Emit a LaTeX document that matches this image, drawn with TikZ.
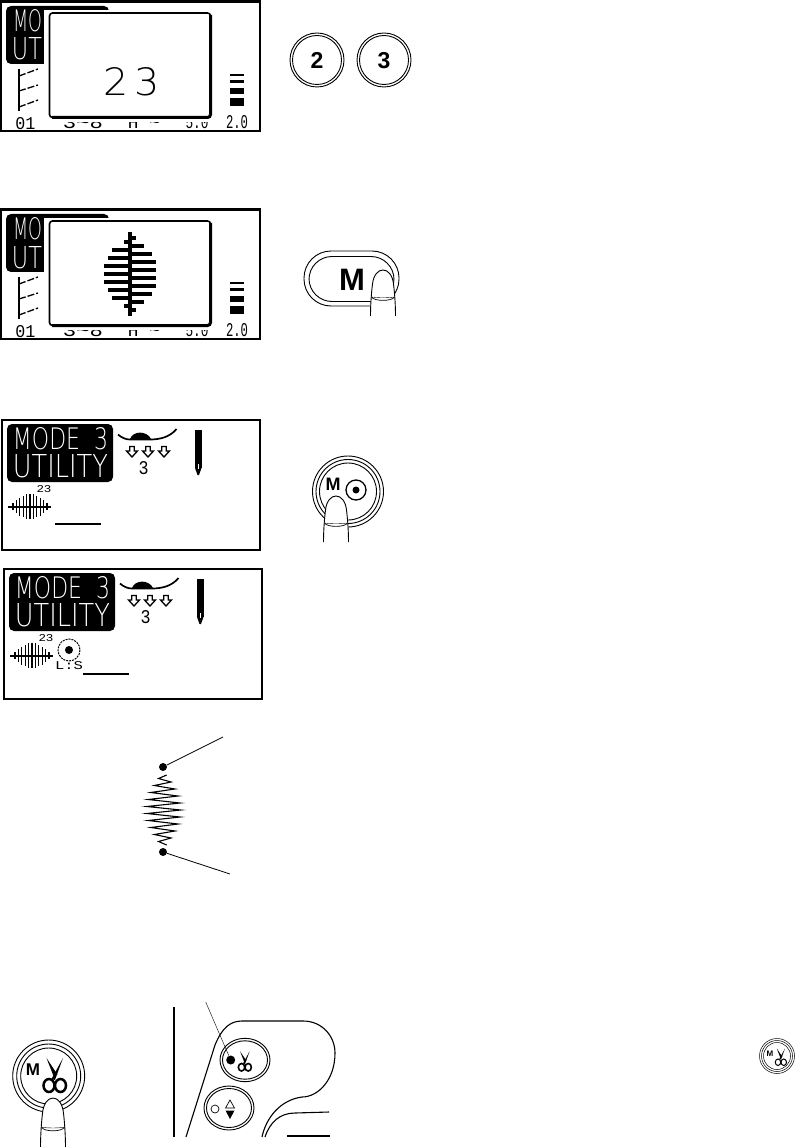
\documentclass[tikz,border=0pt]{standalone}
\usepackage{graphicx}
\usepackage{fontspec}
\setsansfont{Liberation Sans}
\newfontfamily\lcdfont{Liberation Mono}
\newfontfamily\lcdlight{DejaVu Sans ExtraLight}
\newcommand{\lcdtext}[3]{\resizebox{#1pt}{#2pt}{\lcdfont #3}}
\newcommand{\lcdthin}[3]{\resizebox{#1pt}{#2pt}{\lcdlight #3}}
\tikzset{
	lcd/.style={inner sep=0pt, outer sep=0pt},
	keylabel/.style={inner sep=0pt, font=\sffamily\bfseries},
	ring/.style={line width=.9pt},
	fingertip/.pic={
		\draw [line width=.9pt, fill=white] (-12.5,46) .. controls (-12.5,34) and (-11.5,22) .. (-10.5,14) .. controls (-9.5,5) and (-5,0) .. (0,0) .. controls (5,0) and (9.5,5) .. (10.5,14) .. controls (11.5,22) and (12.5,34) .. (12.5,46);
		\draw [line width=.7pt] (-11.5,27) .. controls (-9,31.5) and (9,31.5) .. (11.5,27);
		\draw [line width=.4pt] (-11.5,27) .. controls (-5,28) and (5,28) .. (11.5,27);
	},
	scissorsicon/.pic={
		\fill (-8.5,-15) -- (-1.5,3) -- (2.5,1.5) -- cycle;
		\fill (8,-15) -- (-3.5,6) -- (0,7) -- cycle;
		\draw (-6,12.5) ellipse [x radius=5.5, y radius=6.5];
		\draw (5.5,12.5) ellipse [x radius=5.5, y radius=6.5];
	},
	downarrow/.pic={
		\draw [line width=1.3pt] (-2.3,.5) -- (2.3,.5) -- (2.3,5) -- (5.5,5) -- (0,11) -- (-5.5,5) -- (-2.3,5) -- cycle;
	},
}
\begin{document}
\begin{tikzpicture}[x=1pt, y=-1pt]
	\useasboundingbox (0,0) rectangle (796,1147);
	% two screens with the big panel
	\foreach \yoff/\panel in {0/number, 208/stitch} {
		\begin{scope}[shift={(0,\yoff)}]
			\draw [line width=2.5pt] (1.2,1.5) rectangle (260,131);
			\fill [rounded corners=5pt] (6,6) rectangle (109,64);
			\node (mo\yoff) [lcd, text=white, anchor=north west] at (13,10) {\lcdthin{29}{22}{MO}};
			\node (ut\yoff) [lcd, text=white, anchor=north west] at (12,38) {\lcdthin{30}{22}{UT}};
			\node (left\yoff) [lcd, anchor=south] at (83,128.5) {\lcdtext{40}{12}{3\~{}8}};
			\node (mid\yoff) [lcd, anchor=south] at (144,128.5) {\lcdtext{32}{12}{H \~{}}};
			\node (right\yoff) [lcd, anchor=south] at (197,128.5) {\lcdtext{23}{12}{5.0}};
			\fill [white] (44,10) rectangle (216,122);
			\draw [line width=1.6pt, rounded corners=3pt] (49.5,13) rectangle (210.5,117.5);
			\draw [line width=3pt, rounded corners=3pt] (210.5,15) -- (210.5,117.5) -- (52,117.5);
			\draw [line width=1.2pt] (19,69) -- (19,111);
			\draw [line width=1.3pt, dash pattern=on 7pt off 2pt] (19,76) -- (38,69);
			\draw [line width=1.3pt, dash pattern=on 7pt off 2pt] (19,91) -- (38,85);
			\draw [line width=1.3pt, dash pattern=on 7pt off 2pt] (19,107) -- (38,100);
			\node (num\yoff) [lcd] at (25.5,124) {\lcdtext{20}{12}{01}};
			\node (val\yoff) [lcd] at (237,122.5) {\lcdtext{22}{13}{2.0}};
			\fill (230,74) rectangle (244,76.5);
			\fill (230,80) rectangle (244,83.5);
			\fill (230,88) rectangle (244,94);
			\fill (230,98) rectangle (244,106);
		\end{scope}
	}
	\node (digits) [lcd] at (131.5,82) {\lcdthin{57}{28}{2\,3}};
	% stitch on the second screen
	\fill (128,232) rectangle (132,316);
	\foreach \k/\w in {0/6,1/18,2/22,3/26,4/26,5/26,6/22,7/18,8/6} {
		\fill (130,{241.7+8*\k-2}) rectangle ({130-\w},{241.7+8*\k+2});
	}
	\foreach \k/\w in {0/6,1/14,2/22,3/26,4/26,5/26,6/26,7/22,8/14,9/6} {
		\fill (130,{237.7+8*\k-2}) rectangle ({130+\w},{237.7+8*\k+2});
	}
	% keys 2 and 3
	\draw [ring] (317,60) circle [radius=27];
	\draw [ring] (317,60) circle [radius=24.5];
	\node (keytwo) [keylabel, font=\sffamily\bfseries\fontsize{23}{23}\selectfont] at (317,60.5) {2};
	\draw [ring] (384,60) circle [radius=27];
	\draw [ring] (384,60) circle [radius=24.5];
	\node (keythree) [keylabel, font=\sffamily\bfseries\fontsize{23}{23}\selectfont] at (384,60.5) {3};
	% M key
	\draw [ring, rounded corners=27pt] (304,251) rectangle (399,306);
	\draw [ring, rounded corners=23pt] (309,256.5) rectangle (394,301.5);
	\node (keym) [keylabel, font=\sffamily\bfseries\fontsize{31}{31}\selectfont] at (352,280) {M};
	\path (383,270) pic {fingertip};
	% two mode screens
	\foreach \xoff/\yoff in {0/0, 2/149} {
		\begin{scope}[shift={(\xoff,\yoff)}]
			\draw [line width=2pt] (2,419.5) rectangle (260,549.5);
			\fill [rounded corners=5pt] (7,424) rectangle (113,482);
			\node (mode\yoff) [lcd, text=white] at (60.5,439) {\lcdthin{95}{22}{MODE\ \ 3}};
			\node (utility\yoff) [lcd, text=white] at (60.5,466.5) {\lcdthin{95}{23}{UTILITY}};
			\draw [line width=1.7pt] (118,434.5) .. controls (122,438) and (126,439.5) .. (130,439.5) -- (150,439.5) .. controls (160,439.5) and (170,437) .. (176.5,429);
			\fill (130,439) .. controls (133,430.5) and (147,430.5) .. (151,439) -- cycle;
			\foreach \ax in {132,148,164} {
				\path (\ax,446) pic {downarrow};
			}
			\node (foot\yoff) [lcd] at (143.5,468.5) {\lcdtext{10}{13}{3}};
			\fill (195,430) rectangle (201.5,468);
			\fill (195,468) -- (201.5,468) -- (199,475) -- (197.5,475) -- cycle;
			\fill [white] (197.5,464) rectangle (199,469);
			\node (num\yoff) [lcd] at (44,489) {\lcdtext{15}{7}{23}};
			\draw [line width=1.2pt] (8,507) -- (51,507);
			\foreach \k in {0,...,10} {
				\draw [line width=1.3pt] ({13+3.4*\k},{507-2-11*sin(180*(\k+.5)/11)}) -- ({13+3.4*\k},{507+2+10*sin(180*(\k+.5)/11)});
			}
		\end{scope}
	}
	\draw [line width=1.5pt] (55,524) -- (101,524);
	\draw [line width=1.5pt] (83,674) -- (129,674);
	\draw [line width=1pt, dash pattern=on 2pt off 1pt] (69,650) circle [radius=11];
	\fill (69,650) circle [radius=4];
	\node (lockstitch) [lcd] at (69,666) {\lcdtext{28}{8}{L:S}};
	% M key with dot
	\draw [ring] (348,491.5) circle [radius=35.5];
	\draw [ring] (348,491.5) circle [radius=32];
	\draw [ring] (348,491.5) circle [radius=28.5];
	\node (keymdot) [keylabel, font=\sffamily\bfseries\fontsize{18}{18}\selectfont] at (333,484.5) {M};
	\draw [line width=1.3pt] (356,490) circle [radius=10];
	\fill (356,490) circle [radius=3.5];
	\path (336,496) pic {fingertip};
	% stitch sample
	\draw [line width=1.1pt] plot [domain=0:20, samples=21] ({163.7+cos(180*\x)*(3+14*sin(9*\x))},{775+3.5*\x});
	\node (startdot) [circle, fill, inner sep=0pt, minimum size=8pt] at (163,767) {};
	\node (enddot) [circle, fill, inner sep=0pt, minimum size=8pt] at (163,852) {};
	\coordinate (startend) at (223,737);
	\coordinate (endend) at (230,874);
	\draw [line width=.8pt] (startdot) -- (startend);
	\draw [line width=.8pt] (enddot) -- (endend);
	% scissors key
	\draw [ring] (48.7,1076) circle [radius=36];
	\draw [ring] (48.7,1076) circle [radius=32];
	\draw [ring] (48.7,1076) circle [radius=28];
	\node (keycut) [keylabel, font=\sffamily\bfseries\fontsize{17}{17}\selectfont] at (33,1070) {M};
	\path [line width=2.5pt] (55,1073) pic {scissorsicon};
	\path (53,1098) pic [yscale=1.08] {fingertip};
	% machine head
	\draw [line width=1.1pt] (174,1007) -- (174,1137);
	\draw [line width=1.1pt] (186,1137) -- (215,1045) .. controls (222,1028) and (230,1021) .. (242,1021) -- (303,1021) .. controls (322,1021) and (335,1036) .. (335,1053) .. controls (335,1080) and (318,1097) .. (302,1097) .. controls (280,1100) and (266,1118) .. (262,1137);
	\draw [line width=1.1pt] (265,1137) .. controls (270,1122) and (280,1113) .. (295,1113) -- (329,1112);
	\draw [line width=1.1pt] (287,1136) -- (330,1136);
	\draw [ring] (245,1060) ellipse [x radius=25, y radius=21.7];
	\draw [ring] (245,1060) ellipse [x radius=22.5, y radius=19.2];
	\draw [ring] (229,1108) ellipse [x radius=25, y radius=22];
	\draw [ring] (229,1108) ellipse [x radius=22.5, y radius=19.5];
	\node (cutdot) [circle, fill, inner sep=0pt, minimum size=9pt] at (230.7,1060) {};
	\coordinate (cutend) at (205.7,1002);
	\draw [line width=.4pt] (cutend) -- (cutdot);
	\path [line width=1.6pt] (245,1060) pic [scale=.58] {scissorsicon};
	\draw [line width=.7pt] (215,1109) circle [radius=4];
	\draw [line width=.7pt] (230,1100) -- (234.5,1108) -- (225.5,1108) -- cycle;
	\fill (225.5,1110.5) -- (234.5,1110.5) -- (230,1119) -- cycle;
	% small key
	\draw [line width=.5pt] (777,1056) circle [radius=17.5];
	\draw [line width=.5pt] (777,1056) circle [radius=15.5];
	\draw [line width=.5pt] (777,1056) circle [radius=13.5];
	\node (keysmall) [keylabel, font=\sffamily\bfseries\fontsize{8}{8}\selectfont] at (770,1054) {M};
	\path [line width=1pt] (781,1056) pic [scale=.5] {scissorsicon};
\end{tikzpicture}
\end{document}
